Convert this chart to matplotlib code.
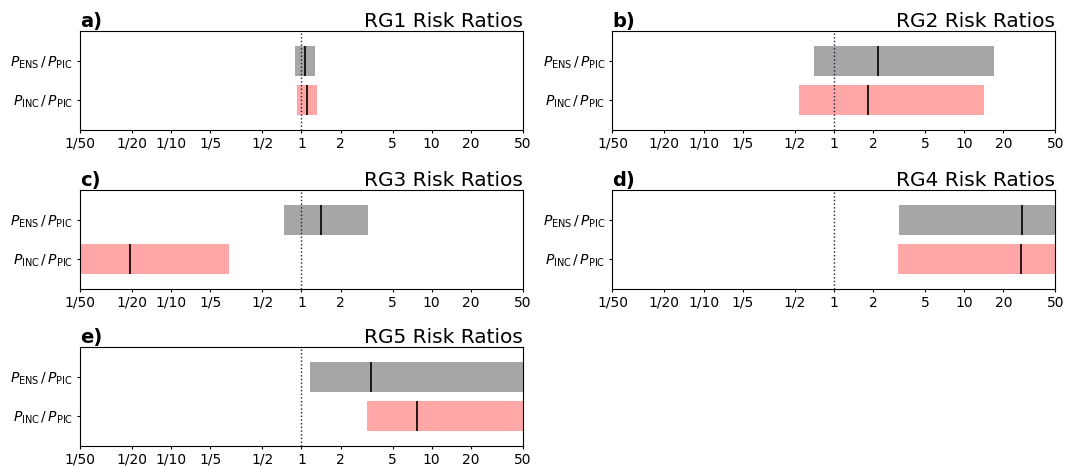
import numpy as np
from matplotlib import pyplot as plt

# risk ratio ranges: (low, median, high)
regions = ["RG1", "RG2", "RG3", "RG4", "RG5"]
panel_tags = ["a)", "b)", "c)", "d)", "e)"]
ens_low = [0.90, 0.70, 0.74, 3.18, 1.16]
ens_med = [1.07, 2.17, 1.41, 27.8, 3.41]
ens_high = [1.26, 16.9, 3.27, 80.0, 80.0]
inc_low = [0.92, 0.54, 0.01, 3.11, 3.17]
inc_med = [1.10, 1.83, 0.048, 27.3, 7.64]
inc_high = [1.31, 14.1, 0.28, 80.0, 80.0]

tick_vals = [1/50, 1/20, 1/10, 1/5, 1/2, 1, 2, 5, 10, 20, 50]
tick_labels = ["1/50", "1/20", "1/10", "1/5", "1/2", "1", "2", "5", "10", "20", "50"]
row_labels = [r"$P_\mathrm{INC}\,/\,P_\mathrm{PIC}$", r"$P_\mathrm{ENS}\,/\,P_\mathrm{PIC}$"]

fig = plt.figure(figsize=(10.67, 4.69), dpi=100)
lefts = [0.075, 0.574]
width = 0.415
bottoms = [0.7228, 0.3838, 0.049]
height = 0.211

bar_h = 0.77
for i, rg in enumerate(regions):
    row, col = divmod(i, 2)
    ax = fig.add_axes([lefts[col], bottoms[row], width, height])
    ax.set_xscale("log")
    # ENS at y=1, INC at y=0
    ax.barh(1, ens_high[i] - ens_low[i], left=ens_low[i], height=bar_h,
            color="gray", alpha=0.7, zorder=1)
    ax.barh(0, inc_high[i] - inc_low[i], left=inc_low[i], height=bar_h,
            color="red", alpha=0.35, zorder=1)
    ax.vlines(ens_med[i], 1 - bar_h / 2, 1 + bar_h / 2, color="black", lw=1.2, zorder=2)
    ax.vlines(inc_med[i], -bar_h / 2, bar_h / 2, color="black", lw=1.2, zorder=2)
    ax.axvline(1, color="#1a1a3a", ls=":", lw=1.0, zorder=3)
    ax.set_xlim(1/50, 50)
    ax.set_ylim(-0.77, 1.77)
    ax.set_xticks(tick_vals)
    ax.set_xticklabels(tick_labels, fontsize=10)
    ax.minorticks_off()
    ax.set_yticks([0, 1])
    ax.set_yticklabels(row_labels, fontsize=10)
    ax.tick_params(length=2.5, pad=2.5)
    ax.set_title(rg + " Risk Ratios", loc="right", fontsize=14.5, pad=3)
    ax.set_title(panel_tags[i], loc="left", fontsize=14, fontweight="bold", pad=1)

fig.savefig("out.png", dpi=100)
